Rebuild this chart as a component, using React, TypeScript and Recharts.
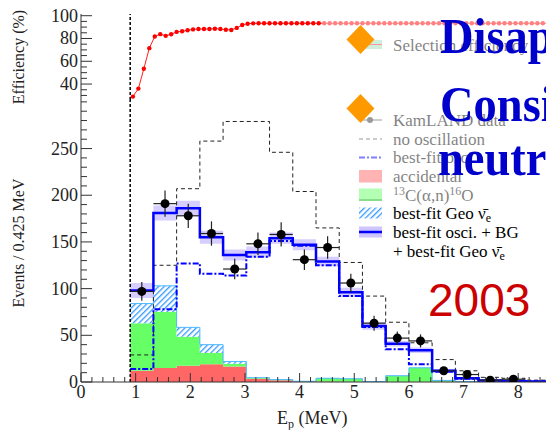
import React from "react";
import {
  ComposedChart,
  Area,
  Line,
  Scatter,
  XAxis,
  YAxis,
  ErrorBar,
  ReferenceLine,
} from "recharts";

// selection efficiency vs prompt energy
const effEnergy = [
  0.95, 1.05, 1.15, 1.25, 1.35, 1.45, 1.55, 1.65, 1.75, 1.85,
  1.95, 2.05, 2.15, 2.25, 2.35, 2.45, 2.55, 2.65, 2.75, 2.85,
  2.95, 3.05, 3.15, 3.25, 3.35, 3.45, 3.55, 3.65, 3.75, 3.85,
  3.95, 4.05, 4.15, 4.25, 4.35, 4.45, 4.55, 4.65, 4.75, 4.85,
  4.95, 5.05, 5.15, 5.25, 5.35, 5.45, 5.55, 5.65, 5.75, 5.85,
  5.95, 6.05, 6.15, 6.25, 6.35, 6.45, 6.55, 6.65, 6.75, 6.85,
  6.95, 7.05, 7.15, 7.25, 7.35, 7.45, 7.55, 7.65, 7.75, 7.85,
  7.95, 8.05, 8.15, 8.25, 8.35, 8.45, 8.55,
];
const effPct = [
  29, 36, 53.5, 71.5, 81.8, 83.8, 82.3, 83.7, 85.8, 86.3,
  87.2, 88, 88.3, 88.3, 88.3, 88.6, 88.3, 87.7, 87.5, 89.3,
  91.9, 93, 93.3, 93.4, 93.4, 93.4, 93.4, 93.4, 93.4, 93.4,
  93.4, 93.4, 93.4, 93.4, 93.4, 93.4, 93.4, 93.4, 93.4, 93.4,
  93.4, 93.4, 93.4, 93.4, 93.4, 93.4, 93.4, 93.4, 93.4, 93.4,
  93.4, 93.4, 93.4, 93.4, 93.4, 93.4, 93.4, 93.4, 93.4, 93.4,
  93.4, 93.4, 93.4, 93.4, 93.4, 93.4, 93.4, 93.4, 93.4, 93.4,
  93.4, 93.4, 93.4, 93.4, 93.4, 93.4, 93.4,
];

// 0.425 MeV bins starting at the 0.9 MeV analysis threshold
const binEdges = [
  0.9, 1.325, 1.75, 2.175, 2.6, 3.025, 3.45, 3.875, 4.3, 4.725,
  5.15, 5.575, 6.0, 6.425, 6.85, 7.275, 7.7, 8.125, 8.55,
];
const accidental = [12, 15, 17.5, 19, 16.5, 3.5, 2, 0.5, 0.5, 0.3, 0.2, 0.2, 0.2, 0.2, 0.1, 0.1, 0.1, 0.1];
const carbonAlphaN = [51, 60, 31, 12, 3, 0.8, 0.5, 0.3, 3.5, 3.2, 0.3, 6.5, 15, 1.5, 0.3, 0, 0, 0];
const geoNu = [21, 28, 10, 9, 2.5, 0.3, 0.1, 0, 0, 0, 0, 0, 0, 0, 0, 0, 0, 0];
const bestFitTotal = [98, 181, 186, 155, 136, 139, 154, 147, 129, 96, 60, 41, 34, 12, 4, 1.5, 1, 0.5];
const bestFitBand = [8, 8, 8, 7, 6, 6, 6, 6, 5, 5, 4, 3, 3, 2, 1, 1, 1, 1];
const bestFitOsci = [14, 78, 127, 116, 114, 134, 151, 146, 125, 92, 59, 35, 19, 11, 3.5, 1.3, 1, 0.5];
const noOscillation = [29, 125, 207, 258, 279, 279, 246, 204, 165, 128, 92, 64, 42, 24, 12, 5, 4, 2];

// KamLAND candidates per bin
const dataEnergy = [
  1.1125, 1.5375, 1.9625, 2.3875, 2.8125, 3.2375, 3.6625, 4.0875, 4.5125,
  4.9375, 5.3625, 5.7875, 6.2125, 6.6375, 7.0625, 7.4875, 7.9125,
];
const dataCounts = [97, 191, 178, 159, 121, 148, 158, 131, 144, 106, 63, 47, 44, 12, 8, 2, 3];
const dataErrors = [10, 14, 13, 13, 11, 12, 13, 11, 12, 10, 8, 7, 7, 4, 3, 2, 2];
const halfBin = 0.2125;

const xMajorLabels = [0, 1, 2, 3, 4, 5, 6, 7, 8];
const effLabels = [40, 60, 80, 100];
const eventLabels = [0, 50, 100, 150, 200, 250];

const FONT = "'Liberation Serif', 'Times New Roman', serif";
const AXIS = "#333";

const effRows = effEnergy.map((e, i) => ({ e, eff: effPct[i] }));

const histRows = binEdges.map((e, i) => {
  const k = Math.min(i, accidental.length - 1);
  return {
    e,
    acc: accidental[k],
    can: carbonAlphaN[k],
    geo: geoNu[k],
    band: [bestFitTotal[k] - bestFitBand[k], bestFitTotal[k] + bestFitBand[k]],
    total: bestFitTotal[k],
    osci: bestFitOsci[k],
    noOsc: noOscillation[k],
  };
});

const points = dataEnergy.map((e, i) => ({ e, n: dataCounts[i], dn: dataErrors[i], dx: halfBin }));

// tick positions: minor every 0.2 MeV, 5 % and 10 events
const xTicks: number[] = [];
for (let k = 0; k <= 43; k++) xTicks.push(Math.round(k * 2) / 10);
const effTicks: number[] = [];
for (let v = 30; v <= 100; v += 5) effTicks.push(v);
const eventTicks: number[] = [];
for (let v = 0; v <= 300; v += 10) eventTicks.push(v);

const isMajorX = (v: number) => xMajorLabels.some((m) => Math.abs(m - v) < 1e-6);

// ticks drawn inward, as on a ROOT-style frame
const bottomTick = (withLabel: boolean) => (props: any) => {
  const { x, y, payload } = props;
  const major = isMajorX(payload.value);
  return (
    <g>
      <line x1={x} x2={x} y1={y} y2={y - (major ? 9 : 5)} stroke={AXIS} />
      {withLabel && major && (
        <text x={x} y={y + 16} textAnchor="middle" fontSize={18} fontFamily={FONT} fill="#222">
          {Math.round(payload.value)}
        </text>
      )}
    </g>
  );
};

const topTick = (props: any) => {
  const { x, y, payload } = props;
  const major = isMajorX(payload.value);
  return <line x1={x} x2={x} y1={y} y2={y + (major ? 7 : 4)} stroke={AXIS} />;
};

const leftTick = (labels: number[]) => (props: any) => {
  const { x, y, payload } = props;
  const major = labels.includes(payload.value);
  return (
    <g>
      <line x1={x} x2={x + (major ? 11 : 6)} y1={y} y2={y} stroke={AXIS} />
      {major && (
        <text x={x - 3} y={y + 6} textAnchor="end" fontSize={18} fontFamily={FONT} fill="#222">
          {payload.value}
        </text>
      )}
    </g>
  );
};

const dot = (p: any) => <circle cx={p.cx} cy={p.cy} r={4.5} fill="#000" />;

function Legends() {
  const rowY = [120, 139, 157.5, 176.5, 195, 213, 232, 251.5];
  const tx = 393;
  return (
    <g fontFamily={FONT} fontSize={17} fill="#000">
      {/* efficiency panel */}
      <rect x={366} y={40} width={16} height={9} fill="#9fdcb8" />
      <line x1={362} x2={382} y1={44.5} y2={44.5} stroke="#ff3030" />
      <text x={tx} y={50.5}>Selection efficiency</text>

      {/* spectrum panel */}
      <line x1={362} x2={382} y1={rowY[0]} y2={rowY[0]} stroke="#333" />
      <circle cx={370} cy={rowY[0]} r={3} fill="#333" />
      <text x={tx} y={rowY[0] + 5.5}>KamLAND data</text>

      <line x1={359} x2={382} y1={rowY[1]} y2={rowY[1]} stroke="#333" strokeDasharray="4 3" />
      <text x={tx} y={rowY[1] + 5.5}>no oscillation</text>

      <line x1={359} x2={382} y1={rowY[2]} y2={rowY[2]} stroke="#0000ff" strokeWidth={2} strokeDasharray="6 2 2 2" />
      <text x={tx} y={rowY[2] + 5.5}>best-fit osci.</text>

      <rect x={359} y={rowY[3] - 6.5} width={23} height={12.5} fill="#ff6666" />
      <text x={tx} y={rowY[3] + 5.5}>accidental</text>

      <rect x={359} y={rowY[4] - 6.5} width={23} height={12} fill="#66ff66" />
      <line x1={359} x2={382} y1={rowY[4] + 5} y2={rowY[4] + 5} stroke="#11bb11" strokeWidth={2} />
      <text x={tx} y={rowY[4] + 5.5}>
        <tspan fontSize={12} dy={-6}>13</tspan>
        <tspan dy={6}>C(α,n)</tspan>
        <tspan fontSize={12} dy={-6}>16</tspan>
        <tspan dy={6}>O</tspan>
      </text>

      <rect x={359} y={rowY[5] - 5.5} width={23} height={11} fill="url(#geoHatch)" />
      <text x={tx} y={rowY[5] + 5.5}>
        <tspan>best-fit Geo ν̄</tspan>
        <tspan fontSize={12} dy={3}>e</tspan>
      </text>

      <rect x={359} y={rowY[6] - 5.5} width={23} height={11} fill="#cfc6ff" />
      <line x1={359} x2={382} y1={rowY[6]} y2={rowY[6]} stroke="#0000ff" strokeWidth={2.5} />
      <text x={tx} y={rowY[6] + 5.5}>best-fit osci. + BG</text>
      <text x={tx} y={rowY[7] + 5.5}>
        <tspan>+ best-fit Geo ν̄</tspan>
        <tspan fontSize={12} dy={3}>e</tspan>
      </text>
    </g>
  );
}

export default function App() {
  return (
    <div
      style={{
        position: "absolute",
        left: 0,
        top: 0,
        width: 546,
        height: 430,
        overflow: "hidden",
        background: "#fff",
      }}
    >
      <svg width={0} height={0} style={{ position: "absolute" }}>
        <defs>
          <pattern id="geoHatch" patternUnits="userSpaceOnUse" width={4} height={4} patternTransform="rotate(45)">
            <rect width={4} height={4} fill="#fff" />
            <line x1={0} y1={0} x2={0} y2={4} stroke="#3399ff" strokeWidth={2.6} />
          </pattern>
        </defs>
      </svg>

      {/* efficiency panel */}
      <div style={{ position: "absolute", left: 0, top: 0 }}>
        <ComposedChart width={552} height={102} data={effRows} margin={{ top: 14, right: 1, bottom: 2, left: 0 }}>
          <XAxis
            dataKey="e"
            type="number"
            domain={[0, 8.6]}
            allowDataOverflow
            ticks={xTicks}
            interval={0}
            tickSize={0}
            tickMargin={0}
            height={0}
            axisLine={{ stroke: AXIS }}
            tick={bottomTick(false)}
          />
          <XAxis
            xAxisId="frame"
            orientation="top"
            type="number"
            domain={[0, 8.6]}
            height={0}
            tick={false}
            tickSize={0}
            axisLine={{ stroke: AXIS }}
          />
          <YAxis
            type="number"
            domain={[26, 101.5]}
            allowDataOverflow
            ticks={effTicks}
            interval={0}
            width={81}
            tickSize={0}
            tickMargin={0}
            axisLine={{ stroke: AXIS }}
            tick={leftTick(effLabels)}
          />
          <Line
            dataKey="eff"
            type="linear"
            stroke="#ff2020"
            strokeWidth={1}
            dot={{ r: 2.2, fill: "#ff0000", stroke: "none" }}
            activeDot={false}
            isAnimationActive={false}
          />
          <ReferenceLine x={0.9} stroke="#000" strokeWidth={1.5} strokeDasharray="3 2" />
        </ComposedChart>
      </div>

      {/* prompt energy spectrum */}
      <div style={{ position: "absolute", left: 0, top: 99 }}>
        <ComposedChart width={552} height={331} data={histRows} margin={{ top: 1, right: 1, bottom: 0, left: 0 }}>
          <XAxis
            dataKey="e"
            type="number"
            domain={[0, 8.6]}
            allowDataOverflow
            ticks={xTicks}
            interval={0}
            tickSize={0}
            tickMargin={0}
            height={48}
            axisLine={{ stroke: AXIS }}
            tick={bottomTick(true)}
          />
          <XAxis
            xAxisId="top"
            orientation="top"
            type="number"
            domain={[0, 8.6]}
            ticks={xTicks}
            interval={0}
            tickSize={0}
            tickMargin={0}
            height={0}
            axisLine={{ stroke: AXIS }}
            tick={topTick}
          />
          <YAxis
            type="number"
            domain={[0, 302]}
            allowDataOverflow
            ticks={eventTicks}
            interval={0}
            width={81}
            tickSize={0}
            tickMargin={0}
            axisLine={{ stroke: AXIS }}
            tick={leftTick(eventLabels)}
          />
          <Area dataKey="acc" stackId="bg" type="stepAfter" fill="#ff6666" fillOpacity={1} stroke="none" isAnimationActive={false} />
          <Area dataKey="can" stackId="bg" type="stepAfter" fill="#66ff66" fillOpacity={1} stroke="none" isAnimationActive={false} />
          <Area dataKey="geo" stackId="bg" type="stepAfter" fill="url(#geoHatch)" fillOpacity={1} stroke="#4db8ff" strokeWidth={1} isAnimationActive={false} />
          <Area dataKey="band" type="stepAfter" fill="#cfc6ff" fillOpacity={0.85} stroke="none" isAnimationActive={false} />
          <Line dataKey="noOsc" type="stepAfter" stroke="#222" strokeWidth={1} strokeDasharray="4 3" dot={false} activeDot={false} isAnimationActive={false} />
          <Line dataKey="osci" type="stepAfter" stroke="#0000ff" strokeWidth={2} strokeDasharray="6 2 2 2" dot={false} activeDot={false} isAnimationActive={false} />
          <Line dataKey="total" type="stepAfter" stroke="#0000ff" strokeWidth={2.5} dot={false} activeDot={false} isAnimationActive={false} />
          <Scatter data={points} dataKey="n" fill="#000" shape={dot} isAnimationActive={false}>
            <ErrorBar dataKey="dn" direction="y" width={0} stroke="#222" strokeWidth={1.2} />
            <ErrorBar dataKey="dx" direction="x" width={0} stroke="#222" strokeWidth={1.2} />
          </Scatter>
          <ReferenceLine x={0.9} stroke="#000" strokeWidth={1.5} strokeDasharray="3 2" />
        </ComposedChart>
      </div>

      <svg width={546} height={430} style={{ position: "absolute", left: 0, top: 0, pointerEvents: "none" }}>
        <g fontFamily={FONT} fill="#222">
          <text transform="translate(24,57) rotate(-90)" textAnchor="middle" fontSize={16}>
            Efficiency (%)
          </text>
          <text transform="translate(24,243) rotate(-90)" textAnchor="middle" fontSize={16}>
            Events / 0.425 MeV
          </text>
          <text x={277} y={424} fontSize={18}>
            <tspan>E</tspan>
            <tspan fontSize={12} dy={4}>p</tspan>
            <tspan dy={-4}> (MeV)</tspan>
          </text>
        </g>
        <Legends />
        {/* slide build-up veil */}
        <rect x={322} y={0} width={224} height={204} fill="#fff" opacity={0.5} />
        <polygon points="360.5,25 374.5,39.5 360.5,54 346.5,39.5" fill="#ff9900" />
        <polygon points="360.5,94 374.5,108.5 360.5,123 346.5,108.5" fill="#ff9900" />
        <g fontFamily={FONT} fontWeight="bold" fontSize={50} fill="#0000cc">
          <text transform="translate(440,53) scale(0.93,1)">Disap</text>
          <text transform="translate(440,121) scale(0.93,1)">Consi</text>
          <text transform="translate(438,175) scale(0.93,1)">neutr</text>
        </g>
        <text x={428} y={316} fontFamily="'Liberation Sans', Arial, sans-serif" fontSize={46} fill="#cc0000">
          2003
        </text>
      </svg>
    </div>
  );
}
